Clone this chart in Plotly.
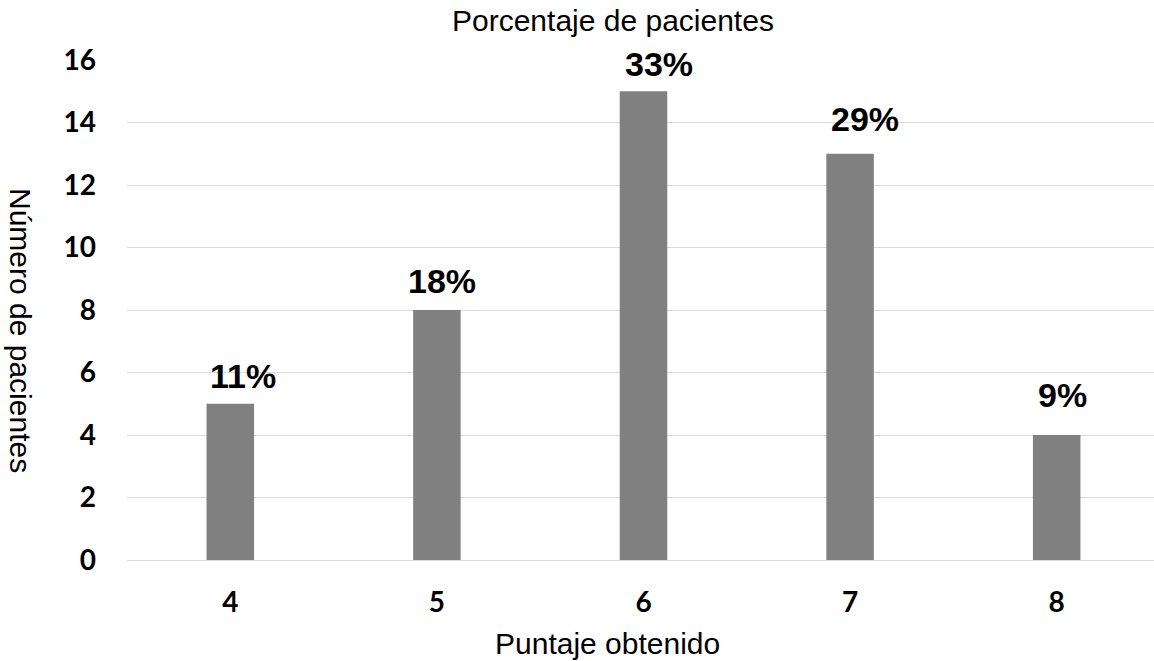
import plotly.graph_objects as go

# Puntaje obtenido por los pacientes y número de pacientes en cada puntaje
puntajes = [4, 5, 6, 7, 8]
pacientes = [5, 8, 15, 13, 4]
total = sum(pacientes)
porcentajes = [f"{round(100 * n / total)}%" for n in pacientes]

y_ticks = [0, 2, 4, 6, 8, 10, 12, 14, 16]

# desplazamiento manual (px) de cada etiqueta de porcentaje
label_dx = [13, 5, 15, 15, 6]
label_dy = [7, 8, 6, 14, 19]

W, H = 1154, 661
L, R, T, B = 127, 0, 60, 101
plot_w = W - L - R
plot_h = H - T - B


def px_x(px):
    return (px - L) / plot_w


def px_y(py):
    return (H - B - py) / plot_h


fig = go.Figure(
    go.Bar(
        x=puntajes,
        y=pacientes,
        width=0.23,
        marker=dict(color="#808080", line=dict(width=0)),
        hoverinfo="skip",
    )
)

# etiquetas de porcentaje sobre cada barra
annotations = [
    dict(
        text=lbl,
        x=xv, y=yv,
        xref="x", yref="y",
        xanchor="center", yanchor="bottom",
        xshift=dx, yshift=dy,
        showarrow=False,
        font=dict(family="Liberation Sans, Arial", size=34, color="#000000", weight="bold"),
    )
    for xv, yv, lbl, dx, dy in zip(puntajes, pacientes, porcentajes, label_dx, label_dy)
]

title_font = dict(family="Liberation Sans, Arial", size=30, color="#000000")
annotations += [
    dict(
        text="Porcentaje de pacientes",
        xref="paper", yref="paper",
        x=px_x(613), y=px_y(21),
        xanchor="center", yanchor="middle",
        showarrow=False,
        font=title_font,
    ),
    dict(
        text="Puntaje obtenido",
        xref="paper", yref="paper",
        x=px_x(607), y=px_y(643),
        xanchor="center", yanchor="middle",
        showarrow=False,
        font=title_font,
    ),
    dict(
        text="Número de pacientes",
        xref="paper", yref="paper",
        x=px_x(21), y=px_y(330),
        xanchor="center", yanchor="middle",
        textangle=90,
        showarrow=False,
        font=title_font,
    ),
]

fig.update_layout(
    width=W,
    height=H,
    margin=dict(l=L, r=R, t=T, b=B, pad=0),
    paper_bgcolor="white",
    plot_bgcolor="white",
    showlegend=False,
    xaxis=dict(
        range=[3.5, 8.471],
        tickvals=puntajes,
        ticktext=[str(p) for p in puntajes],
        showgrid=False,
        zeroline=False,
        showline=False,
        ticks="",
        ticklabelstandoff=23,
        tickfont=dict(family="Lato", size=28, color="#000000", weight="bold"),
    ),
    yaxis=dict(
        range=[0, 16],
        tickvals=y_ticks,
        showgrid=True,
        gridcolor="#d9d9d9",
        gridwidth=1,
        zeroline=True,
        zerolinecolor="#d9d9d9",
        zerolinewidth=1,
        showline=False,
        ticks="",
        ticklabelstandoff=30,
        tickfont=dict(family="Lato", size=28, color="#000000", weight="bold"),
    ),
    annotations=annotations,
)

fig.write_html("out.html")
